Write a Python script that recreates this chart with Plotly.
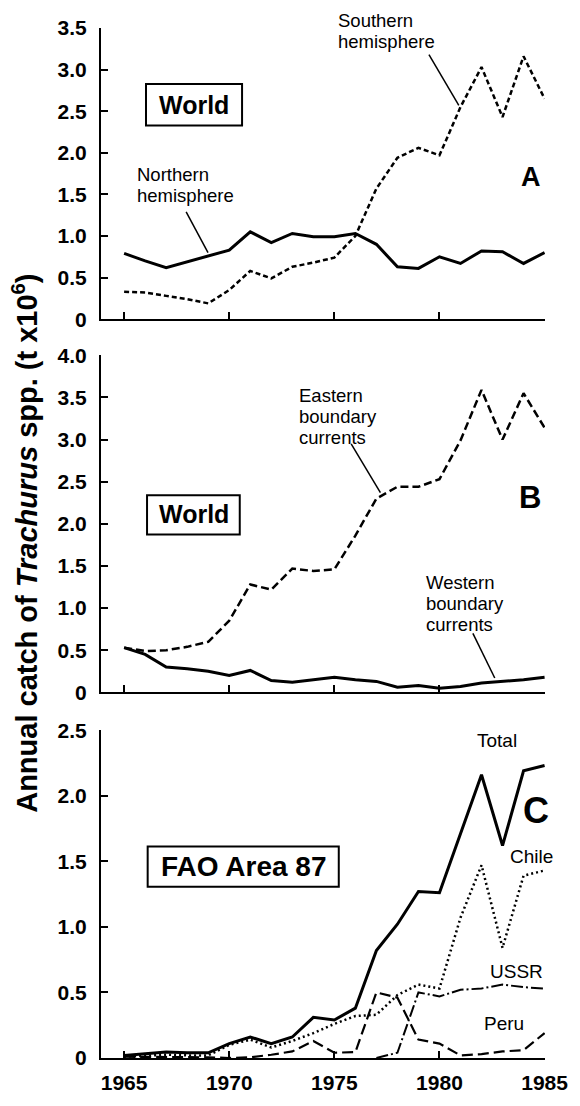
import plotly.graph_objects as go

# ---------------- data ----------------
years = list(range(1965, 1986))

# Panel A (World)
north_hemi = [0.79, 0.70, 0.62, 0.69, 0.76, 0.83, 1.05, 0.92, 1.03, 0.99, 0.99,
              1.03, 0.90, 0.63, 0.61, 0.75, 0.67, 0.82, 0.81, 0.67, 0.80]
south_hemi = [0.33, 0.32, 0.28, 0.24, 0.19, 0.35, 0.58, 0.49, 0.63, 0.68, 0.74,
              1.00, 1.57, 1.94, 2.06, 1.97, 2.55, 3.03, 2.43, 3.16, 2.65]

# Panel B (World)
east_bc = [0.53, 0.49, 0.50, 0.54, 0.60, 0.85, 1.28, 1.22, 1.47, 1.44, 1.46,
           1.86, 2.30, 2.44, 2.44, 2.53, 2.99, 3.59, 3.00, 3.55, 3.14]
west_bc = [0.53, 0.45, 0.30, 0.28, 0.25, 0.20, 0.26, 0.14, 0.12, 0.15, 0.18,
           0.15, 0.13, 0.06, 0.08, 0.05, 0.07, 0.11, 0.13, 0.15, 0.18]

# Panel C (FAO Area 87)
total_87 = [0.02, 0.03, 0.045, 0.04, 0.04, 0.11, 0.16, 0.11, 0.16, 0.31, 0.29,
            0.38, 0.82, 1.02, 1.27, 1.26, 1.71, 2.16, 1.62, 2.19, 2.23]
chile_87 = [0.01, 0.015, 0.025, 0.02, 0.02, 0.10, 0.14, 0.08, 0.13, 0.19, 0.26,
            0.32, 0.33, 0.48, 0.56, 0.53, 1.07, 1.47, 0.84, 1.39, 1.43]
ussr_years = list(range(1977, 1986))
ussr_87 = [0.0, 0.04, 0.50, 0.47, 0.52, 0.53, 0.56, 0.54, 0.53]
peru_87 = [0.01, 0.01, 0.01, 0.01, 0.005, 0.0, 0.005, 0.025, 0.05, 0.13, 0.04,
           0.045, 0.50, 0.46, 0.14, 0.11, 0.02, 0.03, 0.05, 0.06, 0.19]

x_ticks = [1965, 1970, 1975, 1980, 1985]
yA_ticks = [0, 0.5, 1.0, 1.5, 2.0, 2.5, 3.0, 3.5]
yA_text = ["0", "0.5", "1.0", "1.5", "2.0", "2.5", "3.0", "3.5"]
yB_ticks = [0, 0.5, 1.0, 1.5, 2.0, 2.5, 3.0, 3.5, 4.0]
yB_text = ["0", "0.5", "1.0", "1.5", "2.0", "2.5", "3.0", "3.5", "4.0"]
yC_ticks = [0, 0.5, 1.0, 1.5, 2.0, 2.5]
yC_text = ["0", "0.5", "1.0", "1.5", "2.0", "2.5"]

FONT = "Liberation Sans"
K = "black"

fig = go.Figure()

def line(x, y, ax, width, dash):
    fig.add_trace(go.Scatter(x=x, y=y, mode="lines", xaxis=ax[0], yaxis=ax[1],
                             line=dict(color=K, width=width, dash=dash),
                             showlegend=False, hoverinfo="skip"))

A = ("x", "y"); B = ("x2", "y2"); C = ("x3", "y3")
line(years, north_hemi, A, 3, "solid")
line(years, south_hemi, A, 2.5, "5px,3px")
line(years, west_bc, B, 3, "solid")
line(years, east_bc, B, 2.5, "8px,4px")
line(years, total_87, C, 3, "solid")
line(years, chile_87, C, 2.5, "2px,3px")
line(ussr_years, ussr_87, C, 2, "12px,3px,2px,3px")
line(years, peru_87, C, 2.2, "11px,5px")

xr = [1963.9, 1985.02]
TICKFONT = dict(family=FONT, size=21, color=K, weight="bold")

def xax(show, anc):
    return dict(range=xr, showline=True, linecolor=K, linewidth=2,
                ticks="inside", ticklen=7, tickwidth=2, tickcolor=K,
                tickvals=x_ticks, showticklabels=show, showgrid=False,
                zeroline=False, anchor=anc, domain=[0, 1],
                tickfont=TICKFONT, ticklabelstandoff=5)

def yax(rng, tv, tt, dom, anc):
    return dict(range=rng, showline=True, linecolor=K, linewidth=2,
                ticks="inside", ticklen=7, tickwidth=2, tickcolor=K,
                tickvals=tv, ticktext=tt, showgrid=False, zeroline=False,
                domain=dom, anchor=anc, tickfont=TICKFONT,
                ticklabelstandoff=8)

shapes = []
annotations = []
TOP, BOT = 28.0, 1075.0   # plot area in pixels

def py(px):
    return (BOT - px) / (BOT - TOP)

def seg(ax, x0, y0, x1, y1, w=1.5):
    shapes.append(dict(type="line", xref=ax[0], yref=ax[1], x0=x0, y0=y0,
                       x1=x1, y1=y1, line=dict(color=K, width=w)))

def box(ax, x0, y0, x1, y1):
    shapes.append(dict(type="rect", xref=ax[0], yref=ax[1], x0=x0, y0=y0,
                       x1=x1, y1=y1, line=dict(color=K, width=2),
                       fillcolor="rgba(0,0,0,0)"))

def text(ax, x, ypx, lines, size=19, spacing=None, xanchor="left", bold=False):
    if spacing is None:
        spacing = size * 1.3
    body = "<br>".join(f'<span style="font-size:{size}px">{t}</span>' for t in lines)
    if bold:
        body = f"<b>{body}</b>"
    annotations.append(dict(xref=ax[0], yref="paper", x=x, y=py(ypx),
                            text=body, showarrow=False, xanchor=xanchor,
                            yanchor="middle", align="left",
                            font=dict(family=FONT, size=spacing / 1.3, color=K)))

LAB = 18.5
SP = 21

# Panel A
text(A, 1975.07, 31.0, ["Southern", "hemisphere"], size=LAB, spacing=SP)
seg(A, 1979.50, 3.18, 1980.92, 2.57)
text(A, 1965.52, 188.0, ["Northern", "hemisphere"], size=LAB, spacing=SP)
seg(A, 1967.95, 1.29, 1968.99, 0.80)
box(A, 1966.04, 2.329, 1970.61, 2.826)
text(A, 1968.33, 106.0, ["World"], size=25, xanchor="center", bold=True)
text(A, 1984.36, 179.0, ["A"], size=27, xanchor="center", bold=True)

# Panel B
text(B, 1973.21, 423.0, ["Eastern", "boundary", "currents"], size=LAB, spacing=SP)
seg(B, 1975.80, 2.95, 1977.19, 2.37)
text(B, 1979.26, 613.0, ["Western", "boundary", "currents"], size=LAB, spacing=SP)
seg(B, 1981.59, 0.70, 1982.63, 0.17)
box(B, 1966.09, 1.874, 1970.50, 2.34)
text(B, 1968.30, 522.0, ["World"], size=25, xanchor="center", bold=True)
text(B, 1984.32, 505.0, ["B"], size=31, xanchor="center", bold=True)

# Panel C
text(C, 1981.70, 752.0, ["Total"])
text(C, 1984.58, 823.0, ["C"], size=36, xanchor="center", bold=True)
text(C, 1983.24, 870.0, ["Chile"])
text(C, 1982.30, 987.0, ["USSR"])
text(C, 1982.04, 1040.0, ["Peru"])
box(C, 1966.12, 1.305, 1975.21, 1.613)
text(C, 1970.66, 880.5, ["FAO Area 87"], size=28, xanchor="center", bold=True)

# y-axis title
annotations.append(dict(xref="paper", yref="paper", x=-0.1705, y=py(552),
                        text="<b>Annual catch of <i>Trachurus</i> spp. (t x10<sup>6</sup>)</b>",
                        textangle=-90, showarrow=False, xanchor="center",
                        yanchor="middle",
                        font=dict(family=FONT, size=29, color=K)))

fig.update_layout(
    width=580, height=1106, autosize=False,
    margin=dict(l=101, r=27, t=int(TOP), b=int(1106 - BOT)),
    paper_bgcolor="white", plot_bgcolor="white",
    xaxis=xax(False, "y"), xaxis2=xax(False, "y2"), xaxis3=xax(True, "y3"),
    yaxis=yax([0, 3.5], yA_ticks, yA_text, [0.7173, 1.0], "x"),
    yaxis2=yax([0, 4.0], yB_ticks, yB_text, [0.355, 0.6822], "x2"),
    yaxis3=yax([0, 2.5], yC_ticks, yC_text, [0.0, 0.3183], "x3"),
    shapes=shapes, annotations=annotations,
)

POST = ("var gd=document.getElementById('{plot_id}');"
        "gd.style.position='fixed';gd.style.left='0px';gd.style.top='0px';"
        "document.body.style.margin='0';document.body.style.height='1106px';"
        "document.body.style.overflow='hidden';"
        "document.documentElement.style.overflow='hidden';")

fig.write_html("out.html", config={"displayModeBar": False}, post_script=POST)
